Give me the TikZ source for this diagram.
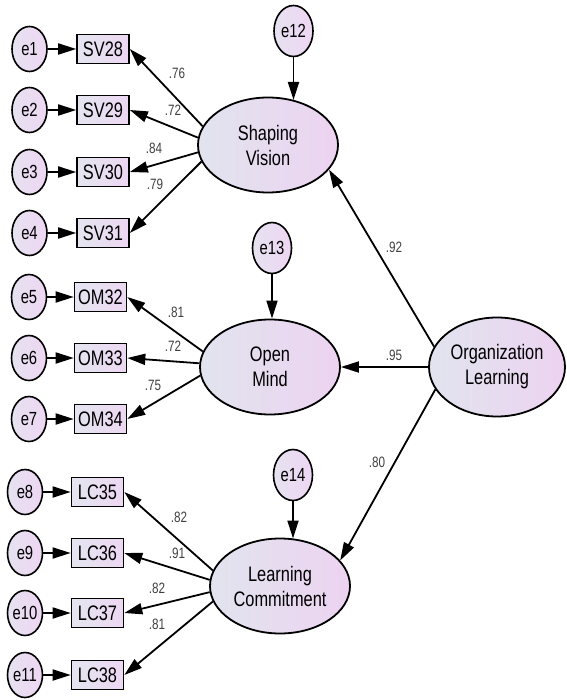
\documentclass[tikz,border=0pt]{standalone}
\usepackage{fontspec}
\setmainfont[FakeStretch=0.78]{Liberation Sans}
\usetikzlibrary{arrows.meta,shapes.geometric}
\definecolor{latL}{HTML}{E1E4EE}
\definecolor{latR}{HTML}{EDD3F1}
\definecolor{errL}{HTML}{E6E2F0}
\definecolor{errR}{HTML}{EED6F3}
\definecolor{boxL}{HTML}{E4E5F0}
\definecolor{boxR}{HTML}{EDD7F2}
\begin{document}
\begin{tikzpicture}[x=1pt,y=-1pt,
 lat/.style={ellipse,draw,line width=1.8pt,minimum width=140pt,minimum height=95pt,inner sep=0pt,left color=latL,right color=latR,align=center,font=\fontsize{21}{25}\selectfont},
 err/.style={ellipse,draw,line width=1.6pt,minimum width=35pt,minimum height=45pt,inner sep=0pt,left color=errL,right color=errR,font=\fontsize{19}{21}\selectfont},
 errb/.style={err,minimum width=39pt,minimum height=51pt},
 obs/.style={rectangle,draw,line width=1.6pt,minimum width=52pt,minimum height=29pt,inner sep=0pt,left color=boxL,right color=boxR,font=\fontsize{21}{23}\selectfont},
 arr/.style={line width=1.8pt,-{Triangle[length=18pt,width=11pt]}},
 lab/.style={font=\fontsize{15}{17}\selectfont,text=black!75,inner sep=0pt}
]
\useasboundingbox (0,0) rectangle (566,700);
% latent variables
\node[lat] (SV) at (268,145) {Shaping\\Vision};
\node[lat] (OM) at (270,367) {Open\\Mind};
\node[lat] (LC) at (280,586) {Learning\\Commitment};
\node[lat,minimum width=136pt,minimum height=99pt] (OL) at (497,367) {Organization\\Learning};
% disturbance terms
\node[errb] (e12) at (293.5,31) {e12};
\node[errb] (e13) at (272,248) {e13};
\node[errb] (e14) at (293,475) {e14};
% observed variables and errors
\node[obs] (SV28) at (103,49) {SV28};
\node[obs] (SV29) at (103,110) {SV29};
\node[obs] (SV30) at (103,172) {SV30};
\node[obs] (SV31) at (103,233) {SV31};
\node[obs] (OM32) at (100.5,297) {OM32};
\node[obs] (OM33) at (100.5,358) {OM33};
\node[obs] (OM34) at (100.5,419) {OM34};
\node[obs] (LC35) at (97.5,492) {LC35};
\node[obs] (LC36) at (97.5,553) {LC36};
\node[obs] (LC37) at (97.5,613) {LC37};
\node[obs] (LC38) at (97.5,675) {LC38};
\node[err] (e1) at (29.5,49) {e1};
\node[err] (e2) at (29.5,110) {e2};
\node[err] (e3) at (29.5,172) {e3};
\node[err] (e4) at (29.5,233) {e4};
\node[err] (e5) at (29,297) {e5};
\node[err] (e6) at (29,358) {e6};
\node[err] (e7) at (29,419) {e7};
\node[err] (e8) at (25,492) {e8};
\node[err] (e9) at (25,553) {e9};
\node[err] (e10) at (25,613) {e10};
\node[err] (e11) at (25,675) {e11};
% error arrows
\foreach \e/\o in {e1/SV28,e2/SV29,e3/SV30,e4/SV31,e5/OM32,e6/OM33,e7/OM34,e8/LC35,e9/LC36,e10/LC37,e11/LC38}
  \draw[arr] (\e) -- (\o);
\draw[arr] (e12) -- (e12 |- SV.60);
\draw[arr] (e13) -- (e13 |- OM.north);
\draw[arr] (e14) -- (e14 |- LC.74);
% loadings
\draw[arr] (SV.164) -- (SV28.east);
\draw[arr] (SV.174) -- (SV29.east);
\draw[arr] (SV.186) -- (SV30.east);
\draw[arr] (SV.194) -- (SV31.east);
\draw[arr] (OM.167) -- (OM32.east);
\draw[arr] (OM.177) -- (OM33.east);
\draw[arr] (OM.187) -- (OM34.east);
\draw[arr] (LC.167) -- (LC35.east);
\draw[arr] (LC.175) -- (LC36.east);
\draw[arr] (LC.185) -- (LC37.east);
\draw[arr] (LC.193) -- (LC38.east);
% structural paths
\draw[arr] (OL.162) -- (SV.338);
\draw[arr] (OL.180) -- (OM.east);
\draw[arr] (OL.200) -- (LC.23);
% coefficients
\node[lab] (l1) at (177,73) {.76};
\node[lab] (l2) at (173,110) {.72};
\node[lab] (l3) at (154,148) {.84};
\node[lab] (l4) at (155,184) {.79};
\node[lab] (l5) at (176,312) {.81};
\node[lab] (l6) at (173,346) {.72};
\node[lab] (l7) at (153,385) {.75};
\node[lab] (l8) at (179,517) {.82};
\node[lab] (l9) at (177,553) {.91};
\node[lab] (l10) at (157,588) {.82};
\node[lab] (l11) at (157,624) {.81};
\node[lab] (l12) at (394,247) {.92};
\node[lab] (l13) at (394,355) {.95};
\node[lab] (l14) at (377,462) {.80};
\end{tikzpicture}
\end{document}
